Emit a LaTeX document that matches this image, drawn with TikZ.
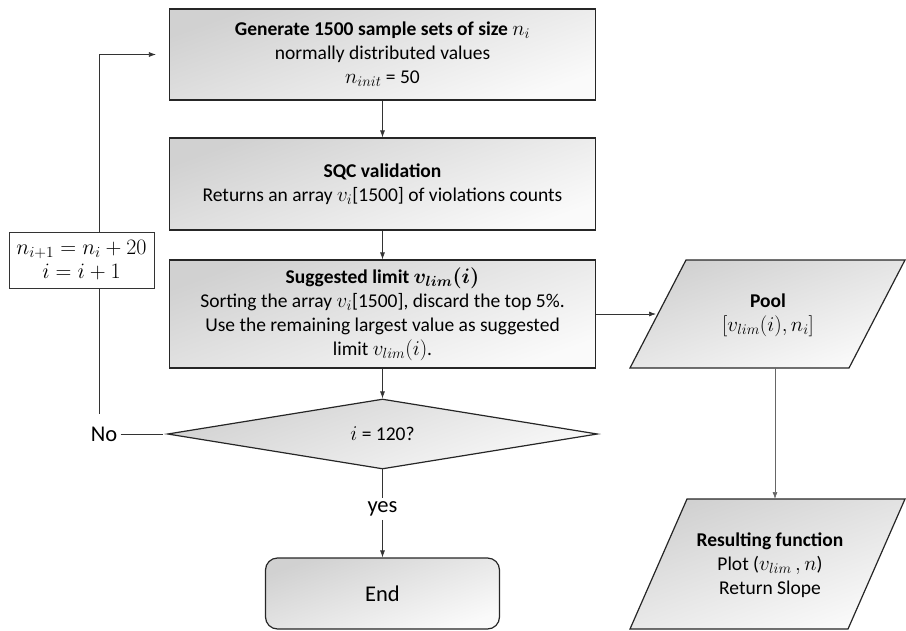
\RequirePackage{fix-cm}
\documentclass[tikz,border=0pt]{standalone}
\usepackage{fontspec}
\setmainfont{Carlito}
\usetikzlibrary{arrows.meta,shapes.geometric}
\newcommand{\mth}[1]{{\fontsize{21}{24}\selectfont$#1$}}
\newcommand{\bmth}[1]{{\fontsize{21}{24}\selectfont\boldmath$#1$}}
\begin{document}
\begin{tikzpicture}[x=1pt,y=-1pt,
  font=\fontsize{19.5}{24}\selectfont,
  shade/.style={top color=black!18, bottom color=black!2, shading angle=20},
  box/.style={draw=black!85, line width=1.2pt, shade, minimum width=426pt, align=center, inner sep=0pt},
  conn/.style={draw=black!80, line width=0.7pt},
  arr/.style={conn, -{Latex[length=7pt,width=5pt]}},
  big/.style={font=\fontsize{22.5}{26}\selectfont}
]
\useasboundingbox (0,0) rectangle (906,630);

\node[box, minimum height=91pt] (gen) at (382.5,54.5)
  {\textbf{Generate 1500 sample sets of size} \mth{n_i}\\normally distributed values\\\mth{n_{init}} = 50};
\node[box, minimum height=92pt] (sqc) at (382.5,184)
  {\textbf{SQC validation}\\Returns an array \mth{v_i}[1500] of violations counts};
\node[box, minimum height=108pt] (sug) at (382.5,314)
  {\textbf{Suggested limit} \bmth{v_{lim}(i)}\\Sorting the array \mth{v_i}[1500], discard the top 5\%.\\Use the remaining largest value as suggested\\limit \mth{v_{lim}(i)}.};
\node[diamond, draw=black!85, line width=1.2pt, shade, minimum width=430pt, minimum height=70pt, inner sep=0pt, aspect=6] (dec) at (382.5,434) {\mth{i} = 120?};
\node[box, big, rounded corners=12pt, minimum width=234pt, minimum height=71pt] (end) at (382.5,593.5) {End};

\node[draw=black!80, line width=0.8pt, fill=white, minimum width=145pt, minimum height=56pt, align=center, inner sep=0pt, font=\fontsize{22}{24}\selectfont] (upd) at (81.5,260)
  {$n_{i+1} = n_i + 20$\\$i = i + 1$};
\node[big] (no) at (104,434) {No};
\node[big] (yes) at (382.5,509) {yes};

\path[draw=black!85, line width=1.2pt, shade] (630,368) -- (686,260) -- (905,260) -- (849,368) -- cycle;
\node[align=center] (pool) at (768,315) {\textbf{Pool}\\\mth{[v_{lim}(i), n_i]}};
\coordinate (poolL) at (656,314);
\coordinate (poolB) at (775,368);

\path[draw=black!85, line width=1.2pt, shade] (630,629) -- (687,499) -- (905,499) -- (848,629) -- cycle;
\node[align=center] (res) at (770,565) {\textbf{Resulting function}\\Plot (\mth{v_{lim}\,, n})\\Return Slope};
\coordinate (resT) at (775,499);

\coordinate (lb) at (99,414);

\draw[arr] (gen.south) -- (sqc.north);
\draw[arr] (sqc.south) -- (sug.north);
\draw[arr] (sug.south) -- (dec.north);
\draw[arr] (sug.east) -- (poolL);
\draw[arr, draw=black!60] (poolB) -- (resT);
\draw[conn, shorten <=-2pt] (dec.south) -- (yes.north);
\draw[arr] (yes.south) -- (end.north);
\draw[conn, shorten >=4pt] (no.east) -- (dec.west);
\draw[conn] (upd.south -| lb) -- (lb);
\draw[arr, shorten >=13pt] (upd.north -| lb) |- (gen.west);
\end{tikzpicture}
\end{document}
